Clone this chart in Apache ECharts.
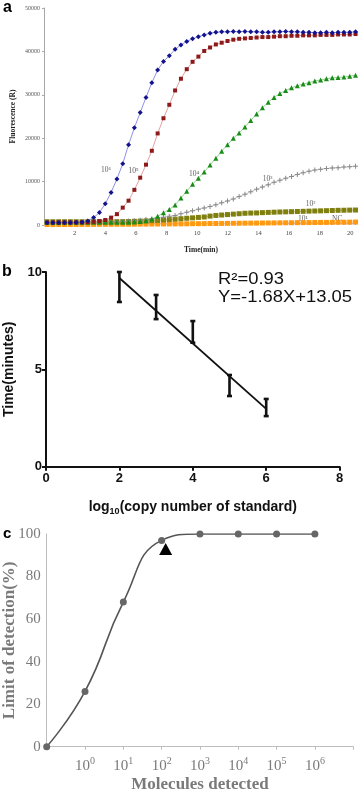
<!DOCTYPE html>
<html>
<head>
<meta charset="utf-8">
<script src="https://cdn.jsdelivr.net/npm/echarts@6/dist/echarts.min.js"></script>
<style>
  html, body { margin: 0; padding: 0; background: #fff; }
  #chart { width: 358px; height: 791px; }
</style>
</head>
<body>
<div id="chart"></div>
<script>
// panel a: real-time amplification curves, one reading every ~0.38 min
const times = [0.2, 0.58, 0.96, 1.34, 1.72, 2.1, 2.48, 2.86, 3.24, 3.62,
  4.0, 4.38, 4.76, 5.14, 5.52, 5.9, 6.28, 6.66, 7.04, 7.42,
  7.8, 8.18, 8.56, 8.94, 9.32, 9.7, 10.08, 10.46, 10.84, 11.22,
  11.6, 11.98, 12.36, 12.74, 13.12, 13.5, 13.88, 14.26, 14.64, 15.02,
  15.4, 15.78, 16.16, 16.54, 16.92, 17.3, 17.68, 18.06, 18.44, 18.82,
  19.2, 19.58, 19.96, 20.34]

const copies1e6 = [500, 500, 520, 520, 530, 560, 650, 950, 1700, 2900,
  4900, 7500, 10600, 14100, 18500, 22400, 25900, 29400, 32800, 35700,
  37700, 39000, 40500, 41500, 42300, 42900, 43400, 43800, 44200, 44400,
  44500, 44500, 44600, 44500, 44600, 44500, 44500, 44400, 44400, 44500,
  44500, 44600, 44500, 44500, 44400, 44400, 44300, 44300, 44400, 44300,
  44400, 44400, 44400, 44500]
const copies1e5 = [600, 600, 610, 610, 620, 620, 630, 650, 750, 900,
  1150, 1700, 2500, 4000, 5600, 8100, 10900, 13900, 17100, 21100,
  24600, 27700, 31000, 33700, 35900, 37600, 38800, 40100, 40900, 41600,
  42000, 42400, 42700, 42900, 43000, 43100, 43200, 43300, 43300, 43400,
  43500, 43500, 43600, 43600, 43700, 43700, 43700, 43800, 43800, 43800,
  43900, 43900, 43900, 44000]
const copies1e4 = [600, 600, 600, 610, 610, 610, 620, 620, 620, 630,
  630, 630, 640, 640, 650, 700, 800, 1000, 1400, 2000,
  2800, 3600, 4600, 6200, 7800, 9400, 10800, 12200, 13800, 15400,
  17000, 18500, 20000, 21200, 22600, 24100, 25600, 27000, 28300, 29400,
  30300, 31000, 31600, 32100, 32500, 32800, 33200, 33400, 33700, 33900,
  34000, 34100, 34300, 34500]
const copies1e3 = [650, 650, 650, 660, 660, 660, 670, 670, 680, 680,
  690, 700, 750, 800, 900, 1000, 1100, 1250, 1400, 1600,
  1800, 2000, 2200, 2600, 2950, 3280, 3640, 3900, 4280, 4650,
  5100, 5550, 6000, 6550, 7100, 7650, 8250, 8750, 9300, 9850,
  10300, 10750, 11200, 11650, 12050, 12400, 12650, 12850, 13000, 13150,
  13200, 13350, 13450, 13550]
const copies1e2 = [750, 750, 750, 750, 750, 750, 750, 750, 760, 760,
  760, 760, 770, 780, 800, 850, 900, 950, 1000, 1050,
  1150, 1250, 1350, 1450, 1550, 1650, 1750, 1850, 2050, 2200,
  2300, 2400, 2500, 2600, 2700, 2750, 2780, 2850, 2900, 2950,
  3000, 3030, 3070, 3110, 3150, 3190, 3230, 3260, 3300, 3340,
  3380, 3400, 3430, 3450]
const copies1e1 = [100, 100, 110, 110, 120, 120, 130, 130, 140, 150,
  150, 160, 170, 170, 180, 190, 200, 210, 220, 230,
  240, 250, 260, 270, 280, 300, 310, 320, 340, 350,
  360, 380, 390, 400, 420, 430, 440, 460, 470, 480,
  500, 510, 520, 540, 550, 560, 580, 590, 600, 620,
  630, 640, 660, 680]
const negControl = [300, 310, 300, 290, 300, 310, 300, 300, 310, 300,
  290, 300, 310, 300, 300, 310, 300, 290, 300, 310,
  300, 300, 310, 300, 290, 300, 310, 300, 300, 310,
  300, 290, 300, 310, 300, 300, 310, 300, 290, 300,
  310, 300, 300, 310, 300, 290, 300, 310, 300, 300,
  310, 300, 290, 300]

// curve tags, [time, fluorescence] where each tag sits
const curveTags = ["10⁶", "10⁵", "10⁴", "10³", "10²", "10¹", "NC"]
const curveTagAt = [[4.05, 12600], [5.85, 12400], [9.8, 11800], [14.6, 10600], [17.4, 4800], [16.9, 1300], [19.15, 1300]]

// panel b: standard curve
const stdLog = [2, 3, 4, 5, 6]
const stdLow = [8.46, 7.58, 6.37, 3.63, 2.6]
const stdHigh = [10.0, 8.82, 7.48, 4.71, 3.48]
const fitSlope = -1.68
const fitIntercept = 13.05

// panel c: limit of detection (first slot = no template, last slot blank)
const lodCats = ["", "10^0", "10^1", "10^2", "10^3", "10^4", "10^5", "10^6", ""]
const lodValues = [0, 26, 68, 97, 100, 100, 100, 100]

const SERIF = "'Liberation Serif', 'DejaVu Serif', serif"
const SANS = "'Liberation Sans', Arial, sans-serif"

const chart = echarts.init(document.getElementById("chart"))

const pick = (arr) => times.map((t, i) => [t, arr[i]])

// one entry per amplification curve
const curves = [
  { name: "NC", data: negControl, symbol: "circle", size: 2, mark: "#a070b0", line: "#c8a0d8" },
  { name: "1e1", data: copies1e1, symbol: "rect", size: 5, mark: "#ff9a10", line: "#ffc880" },
  { name: "1e2", data: copies1e2, symbol: "rect", size: 5, mark: "#7f7f10", line: "#c8c880" },
  { name: "1e3", data: copies1e3, symbol: "path://M2,0H3V2H5V3H3V5H2V3H0V2H2Z", size: 5, mark: "#8a8a8a", line: "#c8c8c8" },
  { name: "1e4", data: copies1e4, symbol: "triangle", size: 5, mark: "#1a8c1a", line: "#8fd88f" },
  { name: "1e5", data: copies1e5, symbol: "rect", size: 4, mark: "#8c1a1a", line: "#e4a0a0" },
  { name: "1e6", data: copies1e6, symbol: "diamond", size: 5, mark: "#12128c", line: "#9090e8" },
]

const curveSeries = curves.map((c) => ({
  type: "line",
  name: c.name,
  xAxisIndex: 0,
  yAxisIndex: 0,
  data: pick(c.data),
  symbol: c.symbol,
  symbolSize: c.size,
  showSymbol: true,
  lineStyle: { color: c.line, width: 1 },
  itemStyle: { color: c.mark },
}))

// "10^3" -> rich text with a raised exponent
const powerLabel = (v) => {
  if (!v) return ""
  const [base, exp] = v.split("^")
  return `{b|${base}}{s|${exp}}`
}

chart.setOption({
  animation: false,
  grid: [
    { left: 44, top: 8, width: 314, height: 217, outerBoundsMode: "none" },
    { left: 46, top: 272, width: 293.6, height: 194.7, outerBoundsMode: "none" },
    { left: 46.7, top: 534, width: 306.5, height: 212.7, outerBoundsMode: "none" },
  ],
  xAxis: [
    {
      gridIndex: 0,
      type: "value",
      min: 0,
      max: 20.5,
      interval: 2,
      axisLine: { show: false },
      axisTick: { show: false },
      splitLine: { show: false },
      axisLabel: {
        formatter: (v) => (v === 0 ? "" : String(v)),
        fontFamily: SERIF, fontSize: 6.5, color: "#444", margin: 5,
      },
      name: "Time(min)",
      nameLocation: "middle",
      nameGap: 21,
      nameTextStyle: { fontFamily: SERIF, fontWeight: "bold", fontSize: 7.5, color: "#222" },
    },
    {
      gridIndex: 1,
      type: "value",
      min: 0,
      max: 8,
      interval: 2,
      axisLine: { show: true, lineStyle: { color: "#111", width: 2 } },
      axisTick: { show: true, length: 4, lineStyle: { color: "#111", width: 2 } },
      splitLine: { show: false },
      axisLabel: { fontFamily: SANS, fontWeight: "bold", fontSize: 13, color: "#111", margin: 5 },
      name: "{a|log}{s|10}{a|(copy number of standard)}",
      nameLocation: "middle",
      nameGap: 31,
      nameTextStyle: {
        rich: {
          a: { fontFamily: SANS, fontWeight: "bold", fontSize: 14, color: "#111", lineHeight: 18 },
          s: { fontFamily: SANS, fontWeight: "bold", fontSize: 9, color: "#111", lineHeight: 18, verticalAlign: "bottom" },
        },
      },
    },
    {
      gridIndex: 2,
      type: "category",
      data: lodCats,
      boundaryGap: false,
      axisLine: { show: true, lineStyle: { color: "#bdbdbd", width: 1 } },
      axisTick: { show: true, length: 3, alignWithLabel: true, lineStyle: { color: "#bdbdbd" } },
      splitLine: { show: false },
      axisLabel: {
        interval: 0,
        margin: 10,
        formatter: powerLabel,
        rich: {
          b: { fontFamily: SERIF, fontSize: 15, color: "#7a7a7a", lineHeight: 18 },
          s: { fontFamily: SERIF, fontSize: 10, color: "#7a7a7a", lineHeight: 11, verticalAlign: "top" },
        },
      },
      name: "Molecules detected",
      nameLocation: "middle",
      nameGap: 29,
      nameTextStyle: { fontFamily: SERIF, fontWeight: "bold", fontSize: 17, color: "#7a7a7a" },
    },
  ],
  yAxis: [
    {
      gridIndex: 0,
      type: "value",
      min: 0,
      max: 50000,
      interval: 10000,
      axisLine: { show: true, lineStyle: { color: "#a8a8a8", width: 1 } },
      axisTick: { show: true, length: 2, lineStyle: { color: "#a8a8a8" } },
      splitLine: { show: false },
      axisLabel: { formatter: (v) => String(v), fontFamily: SERIF, fontSize: 6, color: "#555", margin: 4 },
      name: "Fluorescence (R)",
      nameLocation: "middle",
      nameGap: 27,
      nameMoveOverlap: false,
      nameTextStyle: { fontFamily: SERIF, fontWeight: "bold", fontSize: 7.5, color: "#222" },
    },
    {
      gridIndex: 1,
      type: "value",
      min: 0,
      max: 10,
      interval: 5,
      axisLine: { show: true, lineStyle: { color: "#111", width: 2 } },
      axisTick: { show: true, length: 4, lineStyle: { color: "#111", width: 2 } },
      splitLine: { show: false },
      axisLabel: { fontFamily: SANS, fontWeight: "bold", fontSize: 13, color: "#111", margin: 4 },
      name: "Time(minutes)",
      nameLocation: "middle",
      nameGap: 29,
      nameTextStyle: { fontFamily: SANS, fontWeight: "bold", fontSize: 14, color: "#111" },
    },
    {
      gridIndex: 2,
      type: "value",
      min: 0,
      max: 100,
      interval: 20,
      axisLine: { show: true, lineStyle: { color: "#bdbdbd", width: 1 } },
      axisTick: { show: false },
      splitLine: { show: false },
      axisLabel: { fontFamily: SERIF, fontSize: 15, color: "#7a7a7a", margin: 6 },
      name: "Limit of detection(%)",
      nameLocation: "middle",
      nameGap: 29,
      nameMoveOverlap: false,
      nameTextStyle: { fontFamily: SERIF, fontWeight: "bold", fontSize: 17, color: "#7a7a7a" },
    },
  ],
  series: [
    ...curveSeries,
    {
      // curve tags for panel a
      type: "scatter",
      xAxisIndex: 0,
      yAxisIndex: 0,
      data: curveTagAt.map((p, i) => ({ value: p, name: curveTags[i] })),
      symbolSize: 0,
      silent: true,
      label: {
        show: true,
        position: "inside",
        formatter: (p) => p.name,
        fontFamily: SERIF,
        fontSize: 7.5,
        color: "#333",
      },
    },
    {
      type: "custom",
      xAxisIndex: 1,
      yAxisIndex: 1,
      data: stdLog.map((x, i) => [x, stdLow[i], stdHigh[i]]),
      renderItem: (params, api) => {
        const lo = api.coord([api.value(0), api.value(1)])
        const hi = api.coord([api.value(0), api.value(2)])
        const cap = 2.5
        const st = { stroke: "#111", lineWidth: 2.6 }
        return {
          type: "group",
          children: [
            { type: "line", shape: { x1: lo[0], y1: lo[1], x2: hi[0], y2: hi[1] }, style: st },
            { type: "line", shape: { x1: lo[0] - cap, y1: lo[1], x2: lo[0] + cap, y2: lo[1] }, style: st },
            { type: "line", shape: { x1: hi[0] - cap, y1: hi[1], x2: hi[0] + cap, y2: hi[1] }, style: st },
          ],
        }
      },
    },
    {
      type: "line",
      xAxisIndex: 1,
      yAxisIndex: 1,
      data: [2, 6].map((x) => [x, fitIntercept + fitSlope * x]),
      symbol: "none",
      lineStyle: { color: "#111", width: 1.8 },
    },
    {
      type: "line",
      xAxisIndex: 2,
      yAxisIndex: 2,
      data: lodValues,
      smooth: 0.5,
      symbol: "circle",
      symbolSize: 7,
      lineStyle: { color: "#555", width: 1.6 },
      itemStyle: { color: "#666" },
      markPoint: {
        silent: true,
        data: [{
          coord: ["10^2", 97],
          symbol: "triangle",
          symbolSize: [13, 12],
          symbolOffset: [4, 8.5],
          itemStyle: { color: "#000" },
          label: { show: false },
        }],
      },
    },
  ],
  graphic: [
    { type: "text", left: 3, top: 0, style: { text: "a", fontFamily: SANS, fontWeight: "bold", fontSize: 16, fill: "#000" } },
    { type: "text", left: 2, top: 264, style: { text: "b", fontFamily: SANS, fontWeight: "bold", fontSize: 16, fill: "#000" } },
    { type: "text", left: 3, top: 526, style: { text: "c", fontFamily: SANS, fontWeight: "bold", fontSize: 15, fill: "#000" } },
    { type: "text", x: 218, y: 272, scaleX: 1.15, style: { text: "R²=0.93", fontFamily: SANS, fontSize: 16, fill: "#111" } },
    { type: "text", x: 218, y: 290, scaleX: 1.15, style: { text: "Y=-1.68X+13.05", fontFamily: SANS, fontSize: 16, fill: "#111" } },
  ],
})
</script>
</body>
</html>
